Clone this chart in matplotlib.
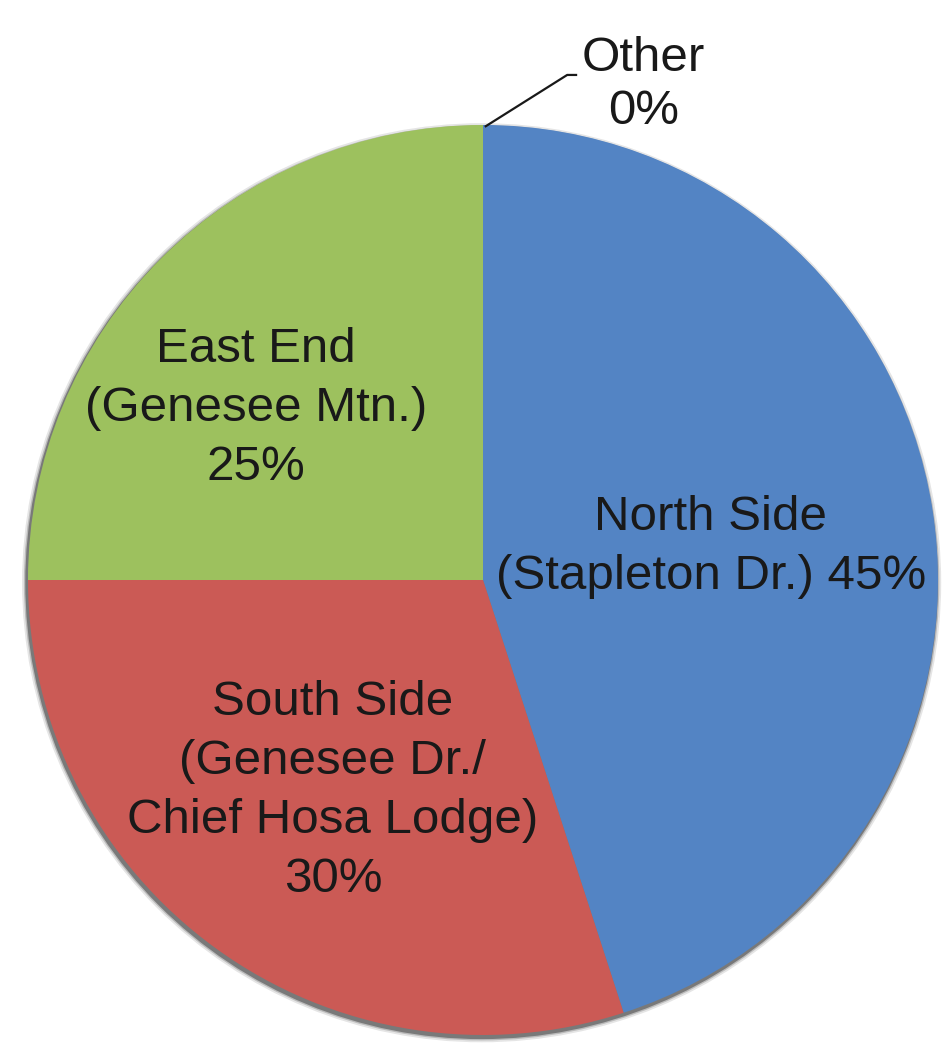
import matplotlib
matplotlib.use("Agg")
import matplotlib.pyplot as plt
from matplotlib.patches import Circle

categories = ["North Side\n(Stapleton Dr.)", "South Side\n(Genesee Dr./\nChief Hosa Lodge)",
              "East End\n(Genesee Mtn.)", "Other"]
values = [45, 30, 25, 0]
pct_labels = ["45%", "30%", "25%", "0%"]
colors = ["#5384C4", "#CB5A55", "#9DC15E", "#8064A2"]

plt.rcParams['font.family'] = ['Liberation Sans', 'DejaVu Sans']

fig = plt.figure(figsize=(9.42, 10.51), dpi=100)
ax = fig.add_axes([0, 0, 1, 1])

# soft shadow behind the pie (stronger toward lower-left)
for dr, a in [(0.010, 0.12), (0.006, 0.22), (0.003, 0.45)]:
    ax.add_patch(Circle((-0.003, -0.006), 1.0 + dr, color="#2a2a2a", alpha=a, lw=0, zorder=0))

wedges, _ = ax.pie(values, colors=colors, startangle=90, counterclock=False,
                   radius=1.0, wedgeprops=dict(linewidth=0))
for w in wedges:
    w.set_zorder(1)

txt_kw = dict(ha="center", va="center", fontsize=35.5, color="#191919", zorder=3)
ax.text(0.501, 0.0725, "North Side\n(Stapleton Dr.) " + pct_labels[0], linespacing=1.4, **txt_kw)
ax.text(-0.330, -0.464, categories[1] + "\n" + pct_labels[1], linespacing=1.4, **txt_kw)
ax.text(-0.499, 0.378, categories[2] + "\n" + pct_labels[2], linespacing=1.4, **txt_kw)
ax.text(0.352, 1.088, categories[3] + "\n" + pct_labels[3], linespacing=1.23, **txt_kw)

# leader line for "Other"
ax.plot([0.004, 0.185, 0.207], [0.996, 1.110, 1.110], color="#191919", lw=1.6, zorder=3,
        solid_capstyle="butt")

ax.set_xlim(-483 / 455, (942 - 483) / 455)
ax.set_ylim(-(1051 - 580) / 455, 580 / 455)
ax.set_aspect("auto")
ax.axis("off")

fig.savefig("out.png", dpi=100, facecolor="white")
